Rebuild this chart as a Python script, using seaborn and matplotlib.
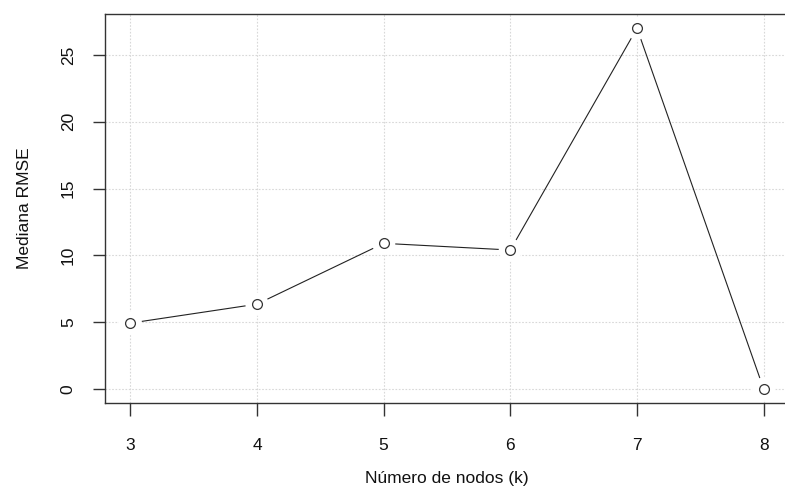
import pandas as pd
import matplotlib
matplotlib.use("Agg")
import matplotlib.pyplot as plt
import seaborn as sns

# ================= Data =================
k_values = [3, 4, 5, 6, 7, 8]
mediana_rmse = [4.93, 6.35, 10.9, 10.4, 27.0, 0.0]
y_ticks = [0, 5, 10, 15, 20, 25]

df = pd.DataFrame({"k": k_values, "rmse": mediana_rmse})

# ================= Style =================
sns.set_style("white")
plt.rcParams["font.family"] = ["Liberation Sans", "DejaVu Sans"]

fig = plt.figure(figsize=(7.85, 4.99), dpi=100)
# axes box like R base plot (right edge falls just outside the image)
ax = fig.add_axes([105 / 785, (499 - 403.4) / 499, 684 / 785, 389.6 / 499])

# grid
ax.set_xticks(k_values)
ax.set_yticks(y_ticks)
ax.grid(True, color="#d8d8d8", linestyle=(0, (1.5, 1.5)), linewidth=0.8)
ax.set_axisbelow(True)

# line + open circles with a gap around each point (type = "b")
sns.lineplot(data=df, x="k", y="rmse", ax=ax, color="#222222", linewidth=0.8)
sns.scatterplot(data=df, x="k", y="rmse", ax=ax, s=280, color="white",
                edgecolor="none", zorder=3)
sns.scatterplot(data=df, x="k", y="rmse", ax=ax, s=50, color="white",
                edgecolor="#333333", linewidth=0.9, zorder=4)

ax.set_xlim(2.8, 8.2)
ax.set_ylim(-1.08, 28.08)

for side in ["left", "bottom", "top"]:
    ax.spines[side].set_color("#333333")
    ax.spines[side].set_linewidth(1.0)
ax.spines["right"].set_visible(False)

ax.tick_params(axis="both", direction="out", length=9, width=1.0,
               bottom=True, left=True,
               color="#333333", labelsize=12.5, labelcolor="#111111")
ax.tick_params(axis="x", pad=16)
ax.tick_params(axis="y", pad=12)
for lbl in ax.get_yticklabels():
    lbl.set_rotation(90)
    lbl.set_va("center")

ax.set_xlabel("Número de nodos (k)", fontsize=12.5, color="#111111", labelpad=13)
ax.set_ylabel("Mediana RMSE", fontsize=12.5, color="#111111", labelpad=21)

fig.savefig("out.png", dpi=100)
